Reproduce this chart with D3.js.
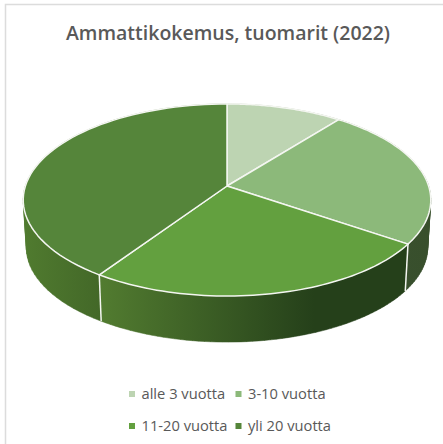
<!DOCTYPE html>
<html>
<head>
<meta charset="utf-8">
<script src="https://cdn.jsdelivr.net/npm/d3@7"></script>
<style>
  html, body { margin: 0; padding: 0; background: #fff; }
  svg { display: block; }
  text { font-family: "Open Sans", "Noto Sans", sans-serif; fill: #595959; }
</style>
</head>
<body>
<svg></svg>
<script>
const width = 443;
const height = 444;

const categories = ["alle 3 vuotta", "3-10 vuotta", "11-20 vuotta", "yli 20 vuotta"];
const values = [10.6, 24.0, 24.8, 40.6];
const colors = ["#bdd4b2", "#8cb97a", "#63a03f", "#55853a"];
// wall shading, left colour to right colour
const wallLeft = ["#6f8f5c", "#3a5130", "#527c30", "#507b2f"];
const wallRight = ["#4a6a38", "#384f2c", "#25401a", "#436828"];

const svg = d3.select("svg")
  .attr("width", width)
  .attr("height", height);

// frame of the pasted chart
svg.append("path")
  .attr("d", d3.line()([[5.5, height], [5.5, 4.5], [width, 4.5]]))
  .attr("fill", "none")
  .attr("stroke", "#dcdcdc")
  .attr("stroke-width", 1.5);

svg.append("text")
  .attr("x", 228)
  .attr("y", 40)
  .attr("text-anchor", "middle")
  .attr("font-size", 19.5)
  .attr("font-weight", 600)
  .text("Ammattikokemus, tuomarit (2022)");

// Tilted disc: a unit circle seen in perspective
const cx = 227, cy = 186;
const rx = 201.6, ry = 94, k = 0.1458;
const depth = 47.7, shrink = 0.985;

function project(angle, s, dy) {
  const x = Math.sin(angle);
  const y = -Math.cos(angle);
  const w = 1 - k * y;
  return [cx + s * rx * x / w, cy + dy + s * ry * y / w];
}

const slices = d3.pie().sort(null)(values);

function arcPoints(d, s, dy) {
  const a = d3.scaleLinear().domain([0, 60]).range([d.startAngle, d.endAngle]);
  return d3.range(61).map(i => project(a(i), s, dy));
}

const line = d3.line();
const defs = svg.append("defs");

// walls first, the top faces go over them
slices.forEach((d, i) => {
  const top = arcPoints(d, 1, 0);
  const bottom = arcPoints(d, shrink, depth);
  const xs = top.map(p => p[0]);
  const grad = defs.append("linearGradient")
    .attr("id", "wall" + i)
    .attr("gradientUnits", "userSpaceOnUse")
    .attr("x1", d3.min(xs)).attr("x2", i === 2 ? d3.min(xs) + 215 : (i === 3 ? cx - 127 : d3.max(xs)))
    .attr("y1", 0).attr("y2", 0);
  grad.append("stop").attr("offset", 0).attr("stop-color", wallLeft[i]);
  grad.append("stop").attr("offset", 1).attr("stop-color", wallRight[i]);

  // one quad per step, all wound the same way so the turn at the silhouette stays filled
  let dPath = "";
  d3.range(top.length - 1).forEach(j => {
    const quad = [top[j], top[j + 1], bottom[j + 1], bottom[j]];
    if (d3.polygonArea(quad) < 0) quad.reverse();
    dPath += line(quad) + "Z";
  });
  svg.append("path")
    .attr("d", dPath)
    .attr("fill", `url(#wall${i})`)
    .attr("stroke", `url(#wall${i})`)
    .attr("stroke-width", 0.5);
});

// seams on the wall at the slice borders that face the viewer
slices.forEach(d => {
  if (d.startAngle > Math.PI / 2 && d.startAngle < Math.PI * 1.5) {
    svg.append("path")
      .attr("d", line([project(d.startAngle, 1, 0), project(d.startAngle, shrink, depth)]))
      .attr("stroke", "#f4f6f1")
      .attr("stroke-width", 1.5);
  }
});

// top faces
slices.forEach((d, i) => {
  const pts = [[cx, cy]].concat(arcPoints(d, 1, 0));
  svg.append("path")
    .attr("d", line(pts) + "Z")
    .attr("fill", colors[i])
    .attr("stroke", "#f4f6f1")
    .attr("stroke-width", 1.5)
    .attr("stroke-linejoin", "round");
});

// legend
const legendX = [132, 238.5];
const legendY = [394, 426];
categories.forEach((c, i) => {
  const col = i % 2, row = Math.floor(i / 2);
  svg.append("rect")
    .attr("x", legendX[col] - 3)
    .attr("y", legendY[row] - 3)
    .attr("width", 6)
    .attr("height", 6)
    .attr("fill", colors[i]);
  svg.append("text")
    .attr("x", legendX[col] + 9.5)
    .attr("y", legendY[row] + 5)
    .attr("font-size", 14.7)
    .text(c);
});
</script>
</body>
</html>
